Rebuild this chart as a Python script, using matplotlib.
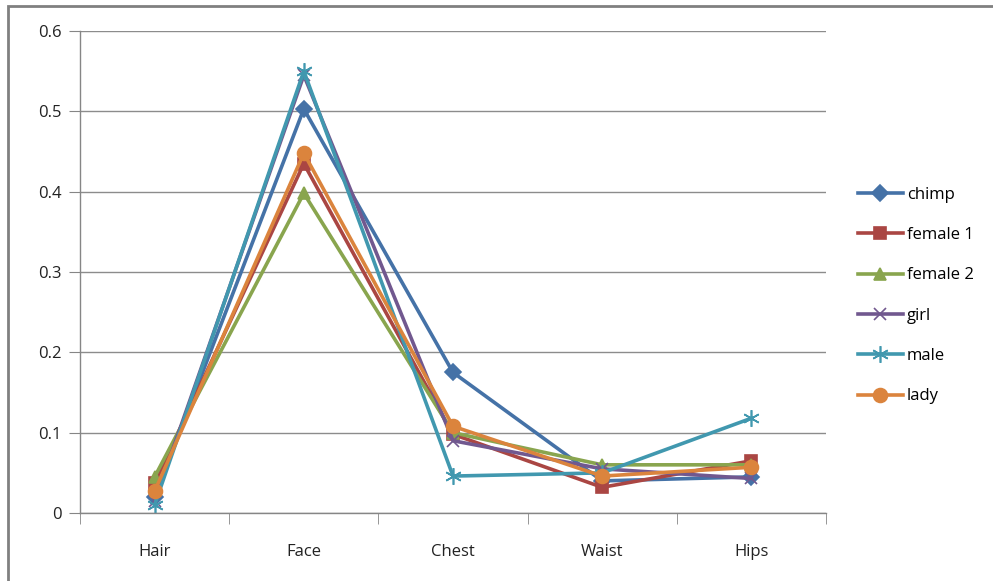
import matplotlib.pyplot as plt
from matplotlib.patches import Rectangle

# Data
regions = ["Hair", "Face", "Chest", "Waist", "Hips"]
chimp = [0.020, 0.503, 0.175, 0.040, 0.045]
female_1 = [0.037, 0.435, 0.098, 0.032, 0.065]
female_2 = [0.045, 0.398, 0.100, 0.060, 0.060]
girl = [0.015, 0.545, 0.090, 0.055, 0.043]
male = [0.010, 0.550, 0.046, 0.050, 0.118]
lady = [0.027, 0.448, 0.108, 0.046, 0.057]

series = [
    ("chimp", chimp, "#4572A7", "D", 8),
    ("female 1", female_1, "#AA4643", "s", 9),
    ("female 2", female_2, "#89A54E", "^", 9),
    ("girl", girl, "#71588F", "x", 9),
    ("male", male, "#4198AF", (6, 2, 0), 12),
    ("lady", lady, "#DB843D", "o", 10),
]

plt.rcParams['font.family'] = ['Open Sans', 'DejaVu Sans']

fig = plt.figure(figsize=(9.93, 5.81), dpi=100)
ax = fig.add_axes([0.0806, 0.117, 0.7512, 0.8296])

x = list(range(len(regions)))
for name, vals, col, mk, ms in series:
    ax.plot(x, vals, color=col, lw=2.6, marker=mk, markersize=ms,
            markeredgecolor=col, markerfacecolor=col, markeredgewidth=1.2,
            label=name)

ax.set_xlim(-0.5, len(regions) - 0.5)
ax.set_ylim(0, 0.6)
ax.set_yticks([0, 0.1, 0.2, 0.3, 0.4, 0.5, 0.6])
ax.set_yticklabels(["0", "0.1", "0.2", "0.3", "0.4", "0.5", "0.6"])
ax.set_xticks(x)
ax.set_xticklabels(regions)
ax.set_xticks([i - 0.5 for i in range(len(regions) + 1)], minor=True)
ax.tick_params(axis='x', which='major', length=0, pad=22, labelsize=12, colors='#222222')
ax.tick_params(axis='x', which='minor', length=8, color='#868686', direction='out')
ax.tick_params(axis='y', length=8, color='#868686', labelsize=12, pad=5,
               labelcolor='#222222')

ax.grid(axis='y', color='#8c8c8c', lw=1)
ax.set_axisbelow(True)
for s in ['top', 'right']:
    ax.spines[s].set_visible(False)
for s in ['left', 'bottom']:
    ax.spines[s].set_color('#868686')
    ax.spines[s].set_linewidth(1)

fig.legend(loc='upper left', bbox_to_anchor=(0.857, 0.69), frameon=False,
           fontsize=12, handlelength=2.7, handletextpad=0.25,
           labelspacing=1.46, borderaxespad=0)

# outer chart frame
fig.patches.append(Rectangle((8 / 993, -0.05), 1.1, 1 - 6 / 581 + 0.05,
                             transform=fig.transFigure, fill=False,
                             edgecolor='#808080', lw=2))

fig.savefig("out.png", dpi=100)
